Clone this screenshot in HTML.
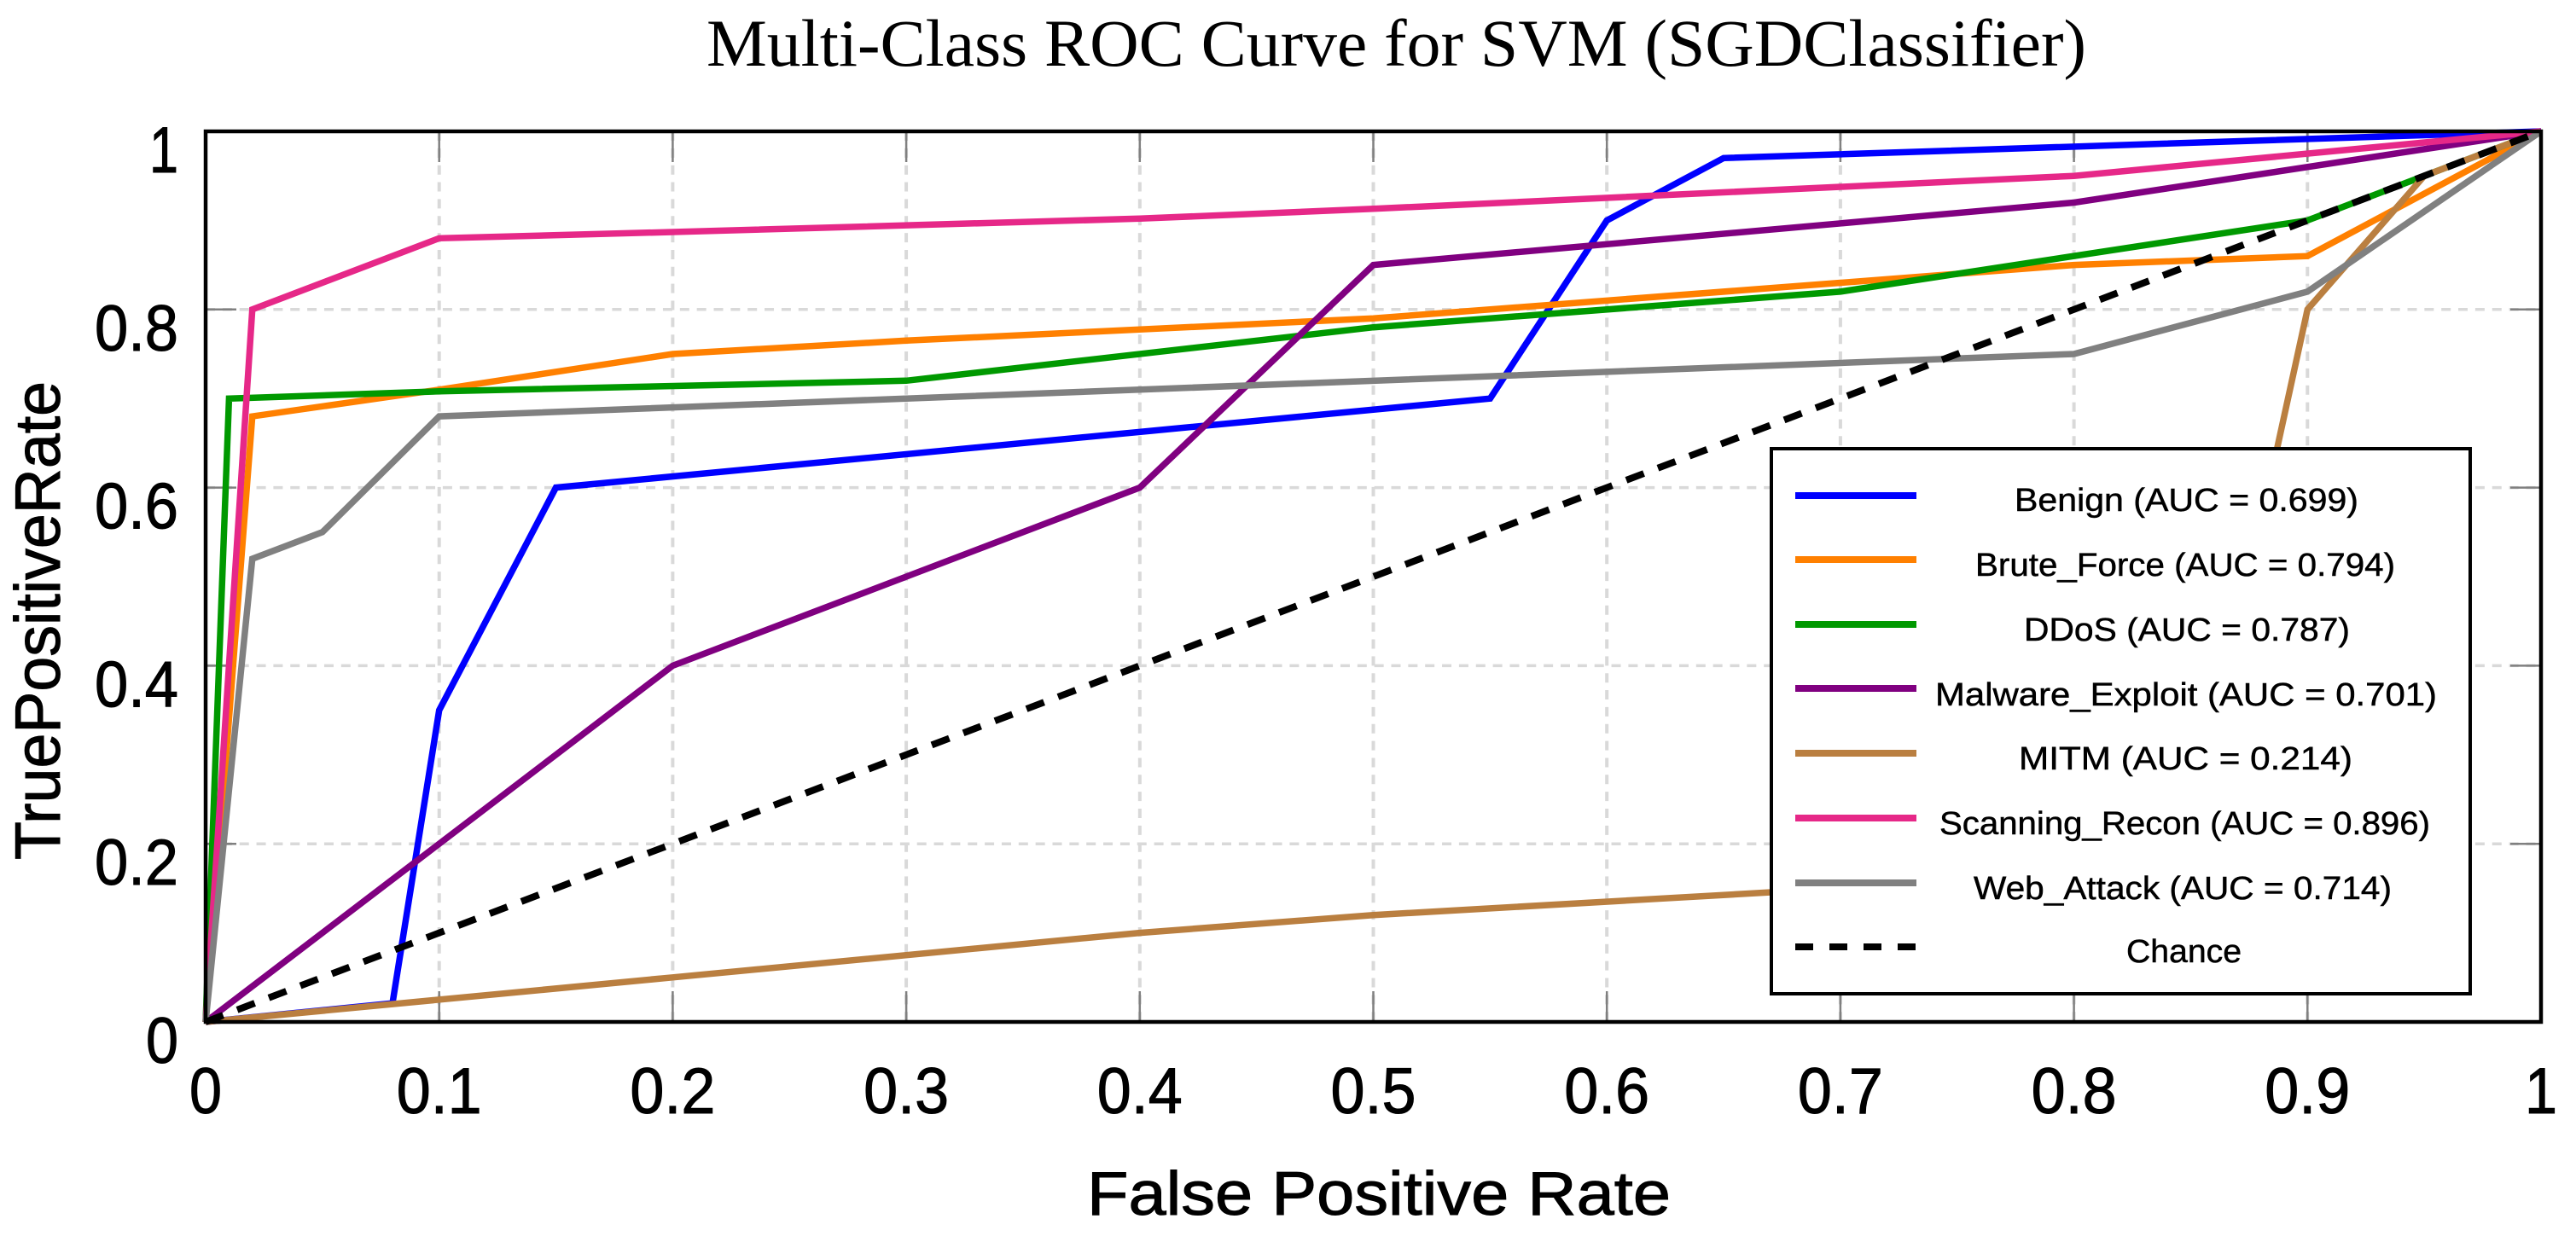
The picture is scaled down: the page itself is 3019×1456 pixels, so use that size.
<!DOCTYPE html>
<html lang="en">
<head>
<meta charset="utf-8">
<title>Multi-Class ROC Curve for SVM (SGDClassifier)</title>
<style>
html,body{margin:0;padding:0;background:#fff;width:3019px;height:1456px;overflow:hidden}
svg{display:block}
text{fill:#000;font-family:"Liberation Sans",sans-serif}
.heavy{stroke:#000;stroke-width:1}
.legend-text{stroke:#000;stroke-width:.5}
</style>
</head>
<body>
<svg id="chart" xmlns="http://www.w3.org/2000/svg" width="3019" height="1456" viewBox="0 0 3019 1456">
  <rect x="0" y="0" width="3019" height="1456" fill="#ffffff"/>
  <text x="828" y="77" font-size="78" textLength="1617" lengthAdjust="spacingAndGlyphs" style="font-family:'Liberation Serif',serif">Multi-Class ROC Curve for SVM (SGDClassifier)</text>
  <g id="grid"></g>
  <g id="ticks"></g>
  <g id="series"></g>
  <rect id="frame" x="241" y="154" width="2737" height="1044" fill="none" stroke="#000" stroke-width="4.5"/>
  <g id="tick-labels"></g>
  <text class="heavy" x="1274" y="1424" font-size="72" textLength="684" lengthAdjust="spacingAndGlyphs">False Positive Rate</text>
  <text class="heavy" transform="translate(70 1008) rotate(-90)" x="0" y="0" font-size="75" textLength="561" lengthAdjust="spacingAndGlyphs">TruePositiveRate</text>

  <g>
    <rect x="2076" y="526" width="819" height="639" fill="#ffffff" stroke="#000" stroke-width="4"/>
    <line x1="2104" x2="2246" y1="581" y2="581" stroke="#0000ff" stroke-width="8"/>
    <text class="legend-text" x="2361" y="599" font-size="38" textLength="403" lengthAdjust="spacingAndGlyphs">Benign (AUC = 0.699)</text>
    <line x1="2104" x2="2246" y1="656" y2="656" stroke="#ff8000" stroke-width="8"/>
    <text class="legend-text" x="2315" y="675" font-size="38" textLength="492" lengthAdjust="spacingAndGlyphs">Brute_Force (AUC = 0.794)</text>
    <line x1="2104" x2="2246" y1="732" y2="732" stroke="#009900" stroke-width="8"/>
    <text class="legend-text" x="2372" y="751" font-size="38" textLength="382" lengthAdjust="spacingAndGlyphs">DDoS (AUC = 0.787)</text>
    <line x1="2104" x2="2246" y1="807" y2="807" stroke="#800080" stroke-width="8"/>
    <text class="legend-text" x="2268" y="827" font-size="38" textLength="588" lengthAdjust="spacingAndGlyphs">Malware_Exploit (AUC = 0.701)</text>
    <line x1="2104" x2="2246" y1="883" y2="883" stroke="#ba7f40" stroke-width="8"/>
    <text class="legend-text" x="2366" y="902" font-size="38" textLength="391" lengthAdjust="spacingAndGlyphs">MITM (AUC = 0.214)</text>
    <line x1="2104" x2="2246" y1="959" y2="959" stroke="#e62888" stroke-width="8"/>
    <text class="legend-text" x="2273" y="978" font-size="38" textLength="575" lengthAdjust="spacingAndGlyphs">Scanning_Recon (AUC = 0.896)</text>
    <line x1="2104" x2="2246" y1="1035" y2="1035" stroke="#808080" stroke-width="8"/>
    <text class="legend-text" x="2313" y="1054" font-size="38" textLength="490" lengthAdjust="spacingAndGlyphs">Web_Attack (AUC = 0.714)</text>
    <line x1="2104" x2="2246" y1="1110" y2="1110" stroke="#000" stroke-width="8" stroke-dasharray="21 19"/>
    <text class="legend-text" x="2492" y="1128" font-size="38" textLength="135" lengthAdjust="spacingAndGlyphs">Chance</text>
  </g>
</svg>
<script>
var xTickValues = [0, 0.1, 0.2, 0.3, 0.4, 0.5, 0.6, 0.7, 0.8, 0.9, 1];
var yTickValues = [0, 0.2, 0.4, 0.6, 0.8, 1];
var xTickLabels = ['0', '0.1', '0.2', '0.3', '0.4', '0.5', '0.6', '0.7', '0.8', '0.9', '1'];
var yTickLabels = ['0', '0.2', '0.4', '0.6', '0.8', '1'];

var benignFpr = [0, 0.08, 0.1, 0.15, 0.55, 0.6, 0.65, 1];
var benignTpr = [0, 0.021, 0.35, 0.6, 0.7, 0.9, 0.97, 1];
var bruteForceFpr = [0, 0.02, 0.1, 0.2, 0.3, 0.5, 0.7, 0.8, 0.9, 1];
var bruteForceTpr = [0, 0.68, 0.71, 0.75, 0.765, 0.79, 0.83, 0.85, 0.86, 1];
var ddosFpr = [0, 0.01, 0.1, 0.3, 0.5, 0.7, 0.9, 1];
var ddosTpr = [0, 0.7, 0.708, 0.72, 0.78, 0.82, 0.9, 1];
var malwareFpr = [0, 0.2, 0.4, 0.5, 0.8, 1];
var malwareTpr = [0, 0.4, 0.6, 0.85, 0.92, 1];
var mitmFpr = [0, 0.2, 0.4, 0.5, 0.7, 0.85, 0.9, 0.95, 1];
var mitmTpr = [0, 0.05, 0.1, 0.12, 0.15, 0.2, 0.8, 0.95, 1];
var scanningFpr = [0, 0.02, 0.1, 0.2, 0.4, 0.5, 0.8, 1];
var scanningTpr = [0, 0.8, 0.88, 0.887, 0.902, 0.913, 0.95, 1];
var webAttackFpr = [0, 0.02, 0.05, 0.1, 0.8, 0.9, 1];
var webAttackTpr = [0, 0.52, 0.55, 0.68, 0.75, 0.82, 1];
var chanceFpr = [0, 1];
var chanceTpr = [0, 1];

var NS = 'http://www.w3.org/2000/svg';
var plotLeft = 241, plotRight = 2978, plotTop = 154, plotBottom = 1198;
function xScale(v) { return plotLeft + v * (plotRight - plotLeft); }
function yScale(v) { return plotBottom - v * (plotBottom - plotTop); }
function svgEl(tag, parent, attrs) {
  var el = document.createElementNS(NS, tag);
  for (var k in attrs) el.setAttribute(k, attrs[k]);
  parent.appendChild(el);
  return el;
}

var gridG = document.getElementById('grid');
var ticksG = document.getElementById('ticks');
var labelsG = document.getElementById('tick-labels');

xTickValues.forEach(function (v, i) {
  var x = xScale(v);
  if (i > 0 && i < xTickValues.length - 1) {
    var g = svgEl('line', gridG, {x1: x, x2: x, y1: plotTop, y2: plotBottom, stroke: '#d9d9d9', 'stroke-width': 4, 'stroke-dasharray': '11 8.85'});
    
    
    var t1 = svgEl('line', ticksG, {x1: x, x2: x, y1: plotBottom, y2: plotBottom - 36, stroke: '#808080', 'stroke-width': 2.5});
    
    
    var t2 = svgEl('line', ticksG, {x1: x, x2: x, y1: plotTop, y2: plotTop + 36, stroke: '#808080', 'stroke-width': 2.5});
    
    
  }
  var label = xTickLabels[i];
  var lbl = svgEl('text', labelsG, {x: x, y: 1305, 'font-size': 76, 'text-anchor': 'middle', textLength: label.length > 1 ? 100 : 38, lengthAdjust: 'spacingAndGlyphs', stroke: '#000', 'stroke-width': 1});
  
  
  lbl.textContent = label;
});

yTickValues.forEach(function (v, i) {
  var y = yScale(v);
  if (i > 0 && i < yTickValues.length - 1) {
    var g = svgEl('line', gridG, {x1: plotLeft, x2: plotRight, y1: y, y2: y, stroke: '#d9d9d9', 'stroke-width': 3.5, 'stroke-dasharray': '11 8.85'});
    
    
    var t1 = svgEl('line', ticksG, {x1: plotLeft, x2: plotLeft + 36, y1: y, y2: y, stroke: '#808080', 'stroke-width': 2.5});
    
    
    var t2 = svgEl('line', ticksG, {x1: plotRight, x2: plotRight - 36, y1: y, y2: y, stroke: '#808080', 'stroke-width': 2.5});
    
    
  }
  var label = yTickLabels[i];
  var lbl = svgEl('text', labelsG, {x: 209, y: y + 48, 'font-size': 76, 'text-anchor': 'end', textLength: label.length > 1 ? 98 : (label === '1' ? 34 : 38), lengthAdjust: 'spacingAndGlyphs', stroke: '#000', 'stroke-width': 1});
  
  
  lbl.textContent = label;
});

function drawCurve(xs, ys, color, name, dash) {
  var pts = xs.map(function (v, i) { return xScale(v).toFixed(1) + ',' + yScale(ys[i]).toFixed(1); }).join(' ');
  var attrs = {points: pts, fill: 'none', stroke: color, 'stroke-width': dash ? 8 : 7.5, 'stroke-linejoin': 'miter'};
  if (dash) attrs['stroke-dasharray'] = dash;
  var line = svgEl('polyline', document.getElementById('series'), attrs);
  
  
}
drawCurve(benignFpr, benignTpr, '#0000ff', 'curve-benign');
drawCurve(bruteForceFpr, bruteForceTpr, '#ff8000', 'curve-brute-force');
drawCurve(ddosFpr, ddosTpr, '#009900', 'curve-ddos');
drawCurve(malwareFpr, malwareTpr, '#800080', 'curve-malware-exploit');
drawCurve(mitmFpr, mitmTpr, '#ba7f40', 'curve-mitm');
drawCurve(scanningFpr, scanningTpr, '#e62888', 'curve-scanning-recon');
drawCurve(webAttackFpr, webAttackTpr, '#808080', 'curve-web-attack');
drawCurve(chanceFpr, chanceTpr, '#000000', 'curve-chance', '22 17.6');
</script>
</body>
</html>
